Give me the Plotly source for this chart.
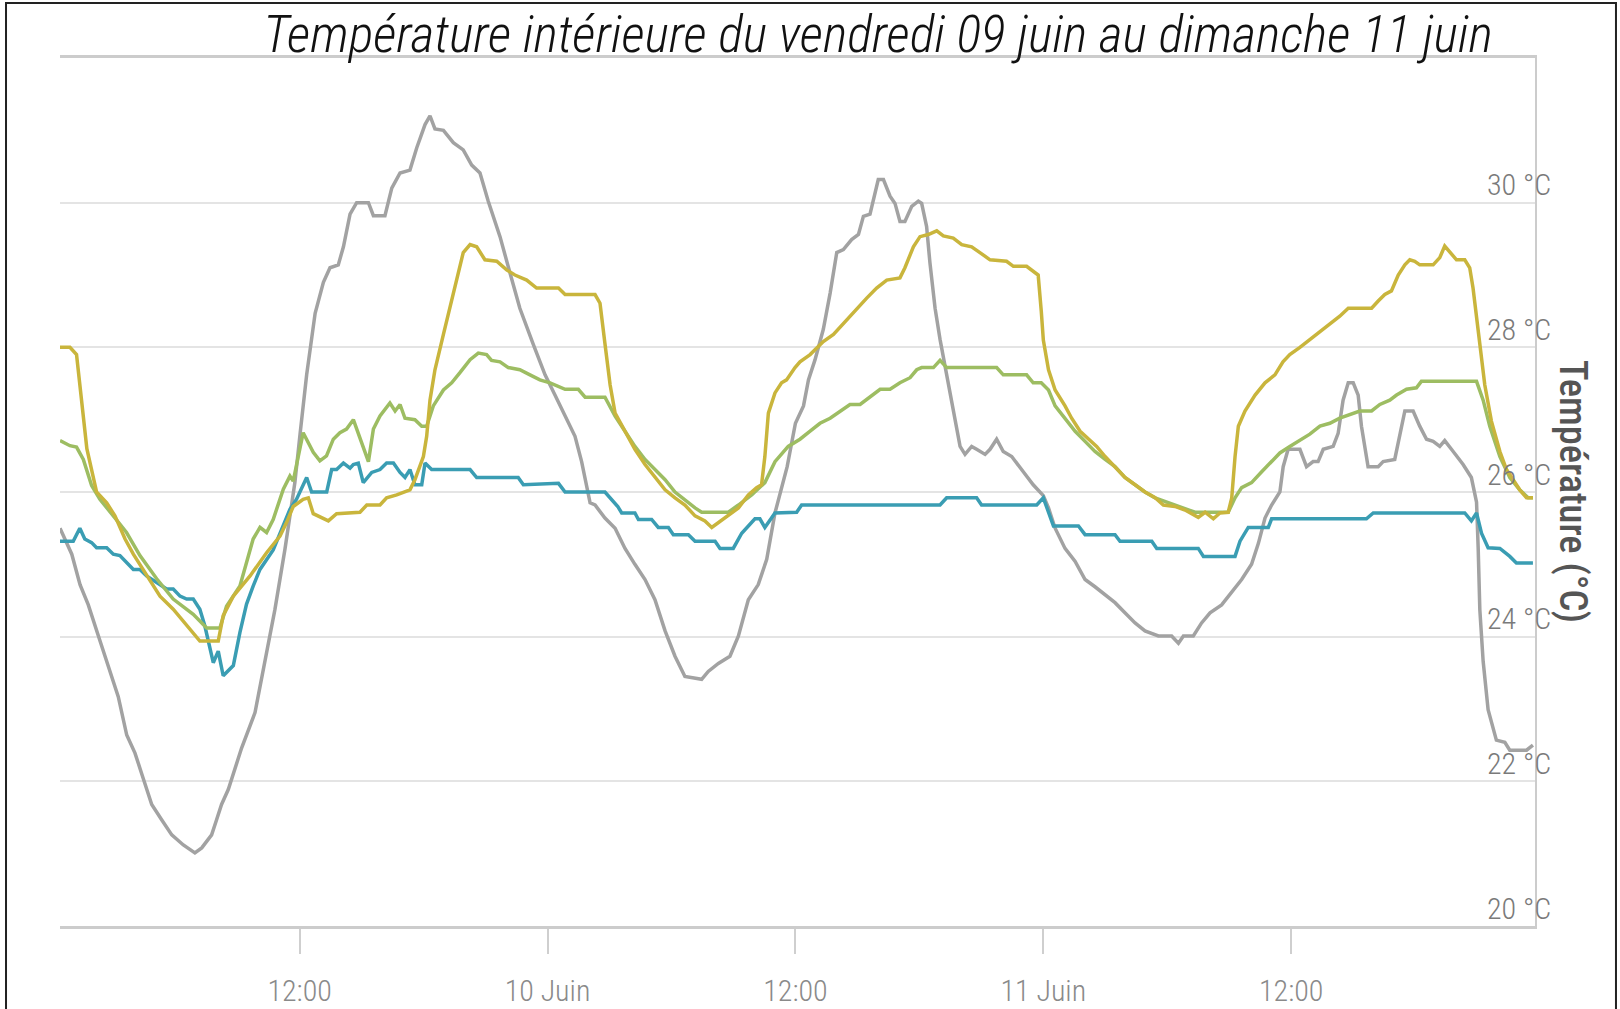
import pandas as pd
import plotly.graph_objects as go

# ---------------- data (hours since 2023-06-09 00:00, °C) ----------------
gray_h = [0.40, 0.97, 1.37, 1.77, 2.26, 2.74, 3.22, 3.63, 4.03, 4.43, 4.84, 5.32, 5.81, 6.37, 6.93, 7.26, 7.74, 7.98,
          8.22, 8.55, 8.87, 9.19, 9.84, 10.32, 10.80, 11.29, 11.77, 12.02, 12.34, 12.75, 13.15, 13.47, 13.87, 14.12,
          14.44, 14.76, 15.33, 15.57, 16.13, 16.46, 16.86, 17.34, 17.67, 18.07, 18.31, 18.55, 18.96, 19.44, 19.92,
          20.33, 20.73, 21.13, 21.70, 22.18, 22.66, 23.31, 23.63, 23.88, 24.36, 24.85, 25.33, 25.65, 26.06, 26.30,
          26.78, 27.27, 27.75, 28.23, 28.72, 29.20, 29.69, 30.17, 30.65, 31.46, 31.78, 32.27, 32.83, 33.24, 33.72,
          34.20, 34.61, 35.01, 35.60, 36.00, 36.39, 36.63, 36.95, 37.35, 37.68, 38.00, 38.32, 38.72, 39.05, 39.29,
          39.61, 40.01, 40.26, 40.58, 40.82, 41.06, 41.30, 41.63, 41.95, 42.11, 42.35, 42.51, 42.76, 43.00, 43.32,
          43.64, 43.97, 44.21, 44.53, 44.77, 45.18, 45.42, 45.74, 46.06, 46.47, 47.03, 47.51, 48.00, 48.25, 48.57,
          49.05, 49.54, 50.02, 50.50, 50.99, 51.47, 51.95, 52.44, 52.92, 53.57, 54.21, 54.54, 54.78, 55.26, 55.66,
          56.07, 56.63, 57.12, 57.60, 58.08, 58.41, 58.73, 59.05, 59.45, 59.61, 59.85, 60.18, 60.42, 60.74, 61.06,
          61.30, 61.55, 62.03, 62.27, 62.51, 62.76, 63.00, 63.24, 63.40, 63.72, 64.21, 64.45, 65.01, 65.26, 65.50,
          65.90, 66.22, 66.55, 66.87, 67.19, 67.43, 67.84, 68.32, 68.72, 68.97, 69.05, 69.13, 69.29, 69.53, 69.93,
          70.34, 70.58, 71.39, 71.70]
gray_t = [25.50, 25.14, 24.72, 24.44, 24.01, 23.59, 23.17, 22.64, 22.39, 22.04, 21.68, 21.47, 21.26, 21.12, 21.01,
          21.08, 21.26, 21.47, 21.68, 21.89, 22.17, 22.46, 22.95, 23.66, 24.37, 25.21, 26.13, 26.80, 27.62, 28.47,
          28.90, 29.10, 29.14, 29.39, 29.84, 30.00, 30.00, 29.82, 29.82, 30.20, 30.41, 30.45, 30.76, 31.08, 31.20,
          31.02, 31.00, 30.83, 30.73, 30.52, 30.41, 30.02, 29.53, 29.03, 28.54, 28.04, 27.80, 27.62, 27.34, 27.05,
          26.77, 26.42, 25.85, 25.82, 25.64, 25.50, 25.22, 25.00, 24.79, 24.51, 24.08, 23.73, 23.45, 23.41, 23.52,
          23.63, 23.73, 24.01, 24.51, 24.72, 25.07, 25.71, 26.35, 26.95, 27.19, 27.55, 27.83, 28.25, 28.75, 29.31,
          29.35, 29.49, 29.56, 29.81, 29.84, 30.32, 30.32, 30.09, 29.99, 29.74, 29.74, 29.95, 30.02, 29.99, 29.67,
          29.17, 28.54, 28.11, 27.62, 27.12, 26.63, 26.52, 26.63, 26.59, 26.52, 26.59, 26.73, 26.56, 26.49, 26.28,
          26.10, 25.95, 25.78, 25.50, 25.22, 25.04, 24.79, 24.69, 24.58, 24.47, 24.33, 24.19, 24.08, 24.01, 24.01,
          23.91, 24.01, 24.01, 24.19, 24.33, 24.44, 24.61, 24.79, 25.00, 25.29, 25.64, 25.82, 26.00, 26.35, 26.59,
          26.59, 26.59, 26.35, 26.42, 26.42, 26.59, 26.63, 26.81, 27.27, 27.51, 27.51, 27.34, 26.91, 26.35, 26.35,
          26.42, 26.45, 26.77, 27.12, 27.12, 26.91, 26.73, 26.70, 26.63, 26.71, 26.56, 26.38, 26.20, 25.86, 25.22,
          24.37, 23.66, 22.99, 22.57, 22.54, 22.43, 22.43, 22.50]

yellow_h = [0.40, 0.88, 1.20, 1.45, 1.70, 2.17, 2.66, 3.06, 3.55, 3.95, 4.60, 5.24, 5.88, 6.53, 7.17, 8.06, 8.30, 8.79,
            9.60, 10.40, 11.05, 11.37, 11.69, 12.17, 12.42, 12.66, 13.39, 13.79, 14.92, 15.25, 15.89, 16.21, 16.70,
            17.34, 17.58, 17.99, 18.15, 18.31, 18.55, 18.96, 19.44, 19.92, 20.25, 20.57, 20.97, 21.54, 22.02, 22.42,
            22.99, 23.47, 24.53, 24.85, 26.30, 26.54, 26.78, 27.03, 27.27, 27.75, 28.23, 28.72, 29.20, 29.69, 30.17,
            30.65, 31.14, 31.62, 31.95, 32.27, 32.75, 33.24, 33.72, 34.12, 34.36, 34.52, 34.69, 35.01, 35.33, 35.57,
            35.98, 36.22, 36.71, 37.35, 37.84, 38.32, 38.97, 39.45, 39.93, 40.42, 41.06, 41.30, 41.71, 42.03, 42.43,
            42.84, 43.16, 43.64, 44.05, 44.53, 44.93, 45.42, 46.22, 46.55, 47.19, 47.75, 47.90, 48.00, 48.25, 48.57,
            49.05, 49.37, 49.78, 50.18, 50.58, 50.99, 51.47, 51.95, 52.44, 52.92, 53.41, 53.81, 54.37, 54.86, 55.50,
            55.83, 56.23, 56.55, 56.95, 57.12, 57.28, 57.44, 57.76, 58.25, 58.73, 59.21, 59.60, 59.93, 60.42, 60.90,
            61.39, 61.87, 62.35, 62.76, 63.89, 64.21, 64.53, 64.85, 65.18, 65.50, 65.74, 65.98, 66.22, 66.87, 67.19,
            67.43, 67.68, 68.00, 68.40, 68.64, 68.80, 68.97, 69.13, 69.37, 69.69, 70.10, 70.42, 70.74, 71.06, 71.39,
            71.70]
yellow_t = [28.00, 28.00, 27.90, 27.30, 26.60, 26.00, 25.85, 25.67, 25.35, 25.14, 24.84, 24.56, 24.38, 24.15, 23.94,
            23.94, 24.29, 24.56, 24.84, 25.16, 25.39, 25.58, 25.80, 25.90, 25.92, 25.70, 25.60, 25.70, 25.72, 25.82,
            25.82, 25.92, 25.96, 26.03, 26.17, 26.49, 26.77, 27.27, 27.69, 28.18, 28.75, 29.31, 29.42, 29.39, 29.21,
            29.19, 29.07, 29.00, 28.93, 28.82, 28.82, 28.73, 28.73, 28.61, 28.05, 27.48, 27.09, 26.84, 26.59, 26.38,
            26.20, 26.03, 25.92, 25.82, 25.67, 25.60, 25.51, 25.58, 25.67, 25.78, 25.96, 26.06, 26.10, 26.49, 27.09,
            27.37, 27.51, 27.55, 27.72, 27.80, 27.90, 28.08, 28.18, 28.33, 28.54, 28.68, 28.82, 28.93, 28.96, 29.10,
            29.39, 29.53, 29.56, 29.61, 29.54, 29.51, 29.42, 29.39, 29.31, 29.21, 29.19, 29.12, 29.12, 29.00, 28.50,
            28.10, 27.69, 27.41, 27.19, 27.02, 26.84, 26.73, 26.63, 26.49, 26.35, 26.20, 26.10, 26.00, 25.92, 25.82,
            25.80, 25.75, 25.65, 25.72, 25.63, 25.71, 25.72, 25.92, 26.49, 26.91, 27.12, 27.34, 27.51, 27.62, 27.80,
            27.90, 28.00, 28.11, 28.22, 28.33, 28.43, 28.54, 28.54, 28.64, 28.73, 28.78, 29.00, 29.14, 29.21, 29.19,
            29.14, 29.14, 29.24, 29.40, 29.31, 29.21, 29.21, 29.10, 28.82, 28.40, 27.98, 27.48, 26.98, 26.56, 26.31,
            26.17, 26.03, 25.92, 25.92]

green_h = [0.40, 0.88, 1.20, 1.53, 1.93, 2.33, 2.98, 3.62, 4.27, 5.08, 5.88, 6.85, 7.50, 8.14, 8.46, 9.11, 9.75, 10.08,
           10.40, 10.72, 11.21, 11.53, 11.69, 12.01, 12.17, 12.66, 12.98, 13.30, 13.63, 13.95, 14.27, 14.60, 14.92,
           15.33, 15.57, 15.89, 16.37, 16.62, 16.86, 17.10, 17.58, 17.91, 18.15, 18.47, 18.96, 19.36, 19.76, 20.25,
           20.65, 21.05, 21.29, 21.70, 22.10, 22.66, 23.15, 23.63, 24.12, 24.85, 25.49, 25.82, 26.78, 27.27, 27.75,
           28.23, 28.72, 29.20, 29.69, 30.17, 30.65, 31.14, 31.46, 32.75, 33.24, 33.88, 34.52, 35.01, 35.65, 36.22,
           36.71, 37.19, 37.68, 38.16, 38.64, 39.13, 39.61, 40.10, 40.58, 41.06, 41.55, 41.87, 42.11, 42.68, 43.00,
           43.32, 45.74, 46.06, 47.19, 47.51, 47.90, 48.25, 48.57, 49.05, 49.54, 50.02, 50.50, 50.99, 51.47, 51.95,
           52.44, 52.92, 53.41, 54.05, 54.70, 55.34, 56.95, 57.28, 57.60, 58.08, 58.57, 59.05, 59.45, 59.93, 60.42,
           60.90, 61.39, 61.87, 62.35, 62.84, 63.32, 63.89, 64.29, 64.77, 65.10, 65.58, 66.06, 66.30, 68.97, 69.29,
           69.61, 70.10, 70.58, 71.06, 71.47, 71.70]
green_t = [26.71, 26.64, 26.62, 26.45, 26.09, 25.90, 25.67, 25.44, 25.12, 24.80, 24.52, 24.31, 24.12, 24.12, 24.42,
           24.70, 25.35, 25.51, 25.44, 25.62, 26.04, 26.22, 26.15, 26.59, 26.82, 26.55, 26.43, 26.50, 26.73, 26.82,
           26.87, 27.00, 26.73, 26.42, 26.87, 27.05, 27.23, 27.12, 27.21, 27.02, 27.00, 26.91, 26.91, 27.19, 27.41,
           27.51, 27.65, 27.83, 27.92, 27.90, 27.82, 27.80, 27.72, 27.69, 27.62, 27.55, 27.51, 27.42, 27.42, 27.31,
           27.31, 27.05, 26.84, 26.63, 26.45, 26.31, 26.17, 26.00, 25.89, 25.78, 25.72, 25.72, 25.82, 25.96, 26.13,
           26.42, 26.63, 26.73, 26.84, 26.95, 27.02, 27.12, 27.21, 27.21, 27.32, 27.42, 27.42, 27.51, 27.58, 27.69,
           27.72, 27.72, 27.82, 27.72, 27.72, 27.62, 27.62, 27.51, 27.51, 27.41, 27.19, 27.02, 26.84, 26.70, 26.56,
           26.45, 26.35, 26.20, 26.10, 26.00, 25.92, 25.85, 25.78, 25.72, 25.72, 25.92, 26.06, 26.13, 26.28, 26.42,
           26.54, 26.63, 26.71, 26.80, 26.91, 26.95, 27.02, 27.07, 27.12, 27.12, 27.21, 27.27, 27.34, 27.42, 27.44,
           27.53, 27.53, 27.27, 26.91, 26.49, 26.20, 26.03, 25.92, 25.92]

blue_h = [0.40, 1.04, 1.36, 1.60, 1.93, 2.17, 2.66, 2.98, 3.30, 3.62, 3.95, 4.27, 4.59, 5.08, 5.56, 5.88, 6.21, 6.53,
          6.85, 7.17, 7.41, 7.82, 8.06, 8.30, 8.79, 9.11, 9.43, 9.75, 10.08, 10.72, 11.21, 11.53, 11.85, 12.17, 12.34,
          12.58, 13.31, 13.55, 13.79, 14.12, 14.44, 14.60, 14.84, 15.08, 15.49, 15.89, 16.21, 16.54, 16.86, 17.10,
          17.34, 17.58, 17.91, 18.07, 18.39, 20.25, 20.57, 22.58, 22.83, 24.53, 24.85, 26.78, 27.10, 27.40, 27.59,
          28.23, 28.40, 29.04, 29.36, 29.85, 30.09, 30.82, 31.14, 32.11, 32.35, 32.99, 33.40, 34.04, 34.28, 34.52,
          35.01, 36.06, 36.30, 43.00, 43.32, 44.77, 45.01, 47.68, 48.00, 48.25, 48.49, 49.70, 50.02, 51.47, 51.71,
          53.25, 53.49, 55.50, 55.75, 57.28, 57.52, 57.92, 58.89, 59.05, 63.64, 63.97, 68.40, 68.72, 68.97, 69.21,
          69.53, 70.10, 70.58, 70.90, 71.70]
blue_t = [25.32, 25.32, 25.50, 25.35, 25.30, 25.23, 25.23, 25.14, 25.12, 25.02, 24.93, 24.93, 24.84, 24.75, 24.66,
          24.66, 24.56, 24.52, 24.52, 24.38, 24.15, 23.64, 23.80, 23.46, 23.60, 24.06, 24.45, 24.70, 24.93, 25.20,
          25.53, 25.76, 25.90, 26.09, 26.20, 26.00, 26.00, 26.31, 26.31, 26.40, 26.33, 26.38, 26.40, 26.13, 26.27,
          26.31, 26.40, 26.40, 26.27, 26.20, 26.31, 26.10, 26.10, 26.40, 26.31, 26.31, 26.20, 26.20, 26.10, 26.12,
          26.00, 26.00, 25.90, 25.80, 25.71, 25.71, 25.62, 25.62, 25.51, 25.51, 25.41, 25.41, 25.32, 25.32, 25.22,
          25.22, 25.43, 25.63, 25.63, 25.51, 25.71, 25.72, 25.82, 25.82, 25.92, 25.92, 25.82, 25.82, 25.92, 25.71,
          25.53, 25.53, 25.41, 25.41, 25.32, 25.32, 25.22, 25.22, 25.11, 25.11, 25.32, 25.51, 25.51, 25.63, 25.63,
          25.71, 25.71, 25.60, 25.71, 25.43, 25.23, 25.22, 25.11, 25.02, 25.02]

x_tick_vals = ["2023-06-09 12:00", "2023-06-10 00:00", "2023-06-10 12:00", "2023-06-11 00:00", "2023-06-11 12:00"]
x_tick_text = ["12:00", "10 Juin", "12:00", "11 Juin", "12:00"]
y_tick_vals = [20, 22, 24, 26, 28, 30]
y_tick_text = ["20 °C", "22 °C", "24 °C", "26 °C", "28 °C", "30 °C"]

title_text = "Température intérieure du vendredi 09 juin au dimanche 11 juin"
y_title = "Température (°C)"

BASE = pd.Timestamp("2023-06-09 00:00")


def to_time(hours):
    return [BASE + pd.Timedelta(hours=h) for h in hours]


series = [
    ("Pièce 1", gray_h, gray_t, "#a2a2a2"),
    ("Pièce 2", blue_h, blue_t, "#3a9db3"),
    ("Pièce 3", green_h, green_t, "#9dbd62"),
    ("Pièce 4", yellow_h, yellow_t, "#c9b53c"),
]

fig = go.Figure()
for name, h, t, c in series:
    fig.add_trace(go.Scatter(x=to_time(h), y=t, mode="lines", name=name,
                             line=dict(color=c, width=3.5), showlegend=False))

narrow = "Roboto Condensed, Liberation Sans Narrow, Roboto, sans-serif"

fig.update_layout(
    width=1620, height=1009,
    margin=dict(l=60, r=85, t=58, b=83, autoexpand=False),
    paper_bgcolor="white", plot_bgcolor="white",
    title=dict(text=title_text, xref="paper", x=0.5546, xanchor="center",
               yref="container", y=1 - 34 / 1009, yanchor="middle",
               font=dict(family=narrow, size=52, color="#111111", style="italic", weight=300)),
    xaxis=dict(type="date", automargin=False,
               range=[BASE + pd.Timedelta(hours=0.40), BASE + pd.Timedelta(hours=71.8)],
               tickvals=x_tick_vals, ticktext=x_tick_text,
               ticks="outside", ticklen=25, tickwidth=2, tickcolor="#cfcfcf",
               ticklabelstandoff=11,
               tickfont=dict(family=narrow, size=30, color="#8a8a8a", weight=300),
               showgrid=False, showline=True, linecolor="#cccccc", linewidth=3,
               mirror=True, zeroline=False),
    yaxis=dict(range=[20, 32], side="right", tickvals=y_tick_vals, showticklabels=False, automargin=False,
               showgrid=True, gridcolor="#e4e4e4", gridwidth=2,
               showline=True, linecolor="#cccccc", linewidth=2, zeroline=False, ticks=""),
)

for v, txt in zip(y_tick_vals, y_tick_text):
    fig.add_annotation(x=1.0122, xref="paper", y=v, yref="y", text=txt, showarrow=False,
                       xanchor="right", yanchor="middle", yshift=18,
                       font=dict(family=narrow, size=30, color="#7a7a7a", weight=300))

fig.add_annotation(x=1.0265, xref="paper", y=0.501, yref="paper", text=y_title, showarrow=False,
                   textangle=90, xanchor="center", yanchor="middle",
                   font=dict(family=narrow, size=38.5, color="#555555", weight=500))

# outer frame of the picture
fig.add_shape(type="rect", xref="paper", yref="paper", x0=-0.0366, x1=1.0549, y0=-0.12, y1=1.0634,
              line=dict(color="#222222", width=2), fillcolor="rgba(0,0,0,0)", layer="below")

fig.write_html("out.html", config={"displayModeBar": False},
               post_script="document.body.style.margin='0';document.body.style.overflow='hidden';")
